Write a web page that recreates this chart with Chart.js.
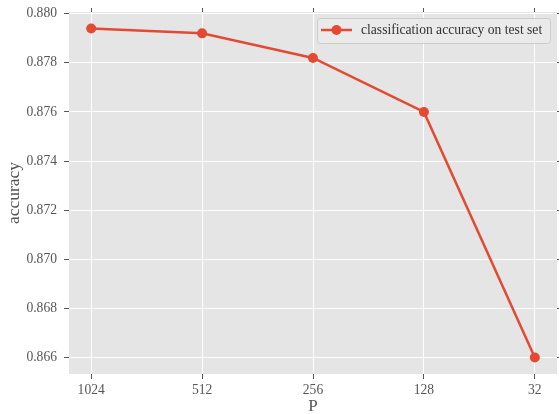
<!DOCTYPE html>
<html>
<head>
<meta charset="utf-8">
<script src="https://cdn.jsdelivr.net/npm/chart.js@4.4.1/dist/chart.umd.min.js"></script>
<style>
  html, body { margin: 0; padding: 0; background: #fff; }
  #wrap { width: 559px; height: 414px; }
</style>
</head>
<body>
<div id="wrap"><canvas id="grafico" width="559" height="414"></canvas></div>
<script>
// datos
const categorias = ['1024', '512', '256', '128', '32'];
const precision = [0.8794, 0.8792, 0.8782, 0.8760, 0.8660];
const ticksY = [0.866, 0.868, 0.870, 0.872, 0.874, 0.876, 0.878, 0.880];
const etiquetaSerie = 'classification accuracy on test set';

const FUENTE = '"Liberation Serif", "Times New Roman", serif';
const ROJO = '#E24A33';
const GRIS_TXT = '#555555';

/*
  ================= plugins =================
*/

// fondo gris del area de trazado
const fondoPlot = {
  id: 'fondoPlot',
  beforeDraw(chart) {
    let { ctx, chartArea: a } = chart;
    ctx.save();
    ctx.fillStyle = '#E5E5E5';
    ctx.fillRect(a.left, a.top, a.right - a.left, a.bottom - a.top);
    ctx.restore();
  }
};

// leyenda dentro del grafico (arriba a la derecha)
const leyendaInterna = {
  id: 'leyendaInterna',
  afterDraw(chart) {
    let ctx = chart.ctx;
    let x = 317, y = 18, w = 233, h = 25;
    ctx.save();
    ctx.fillStyle = 'rgba(235,235,235,0.85)';
    ctx.strokeStyle = '#CCCCCC';
    ctx.lineWidth = 1;
    ctx.beginPath();
    ctx.roundRect(x + 0.5, y + 0.5, w, h, 3);
    ctx.fill();
    ctx.stroke();

    ctx.strokeStyle = ROJO;
    ctx.lineWidth = 2.5;
    ctx.beginPath();
    ctx.moveTo(321, 30);
    ctx.lineTo(352, 30);
    ctx.stroke();
    ctx.fillStyle = ROJO;
    ctx.beginPath();
    ctx.arc(336.5, 30, 5, 0, Math.PI * 2);
    ctx.fill();

    ctx.fillStyle = '#333333';
    ctx.font = '13.6px ' + FUENTE;
    ctx.textBaseline = 'middle';
    ctx.fillText(chart.data.datasets[0].label, 361, 30.5);
    ctx.restore();
  }
};

// quitar el relleno que Chart.js reserva para las etiquetas de los extremos
let sinRellenoH = s => { s.paddingLeft = 0; s.paddingRight = 0; };
let sinRellenoV = s => { s.paddingTop = 0; s.paddingBottom = 0; };

/*
  ================= chart =================
*/

const puntos = precision.map((v, i) => ({ x: i, y: v }));

const ejeX = {
  type: 'linear',
  min: -0.2,
  max: categorias.length - 1 + 0.2,
  afterBuildTicks: s => { s.ticks = categorias.map((c, i) => ({ value: i })); },
  afterFit: s => { s.height = 40; sinRellenoH(s); },
  ticks: {
    callback: v => categorias[v],
    color: GRIS_TXT,
    font: { family: FUENTE, size: 13.6 },
    padding: 3,
    maxRotation: 0,
    autoSkip: false
  },
  grid: { color: '#FFFFFF', lineWidth: 1, tickColor: GRIS_TXT, tickLength: 5 },
  border: { display: false },
  title: {
    display: true,
    text: 'P',
    color: GRIS_TXT,
    font: { family: FUENTE, size: 17 },
    padding: { top: 0, bottom: -3 }
  }
};

const ejeY = {
  type: 'linear',
  min: 0.86533,
  max: 0.88007,
  afterBuildTicks: s => { s.ticks = ticksY.map(v => ({ value: v })); },
  afterFit: s => { s.width = 69; sinRellenoV(s); },
  ticks: {
    callback: v => v.toFixed(3),
    color: GRIS_TXT,
    font: { family: FUENTE, size: 13.6 },
    padding: 7
  },
  grid: { color: '#FFFFFF', lineWidth: 1, tickColor: GRIS_TXT, tickLength: 5 },
  border: { display: false },
  title: {
    display: true,
    text: 'accuracy',
    color: GRIS_TXT,
    font: { family: FUENTE, size: 17.5 },
    padding: { top: 4, bottom: 0 }
  }
};

// ejes secundarios solo para las marcas de arriba y derecha
const ejeXSup = {
  type: 'linear',
  position: 'top',
  min: ejeX.min,
  max: ejeX.max,
  afterBuildTicks: s => { s.ticks = categorias.map((c, i) => ({ value: i })); },
  afterFit: s => { s.height = 12; sinRellenoH(s); },
  ticks: { display: false },
  grid: { color: 'rgba(0,0,0,0)', tickColor: GRIS_TXT, tickLength: 4 },
  border: { display: false }
};

const ejeYDer = {
  type: 'linear',
  position: 'right',
  min: ejeY.min,
  max: ejeY.max,
  afterBuildTicks: s => { s.ticks = ticksY.map(v => ({ value: v })); },
  afterFit: s => { s.width = 2; sinRellenoV(s); },
  ticks: { display: false },
  grid: { color: 'rgba(0,0,0,0)', tickColor: GRIS_TXT, tickLength: 4 },
  border: { display: false }
};

let grafico = new Chart(document.getElementById('grafico').getContext('2d'), {
  type: 'line',
  data: {
    datasets: [
      {
        label: etiquetaSerie,
        data: puntos,
        borderColor: ROJO,
        backgroundColor: ROJO,
        borderWidth: 2.5,
        pointRadius: 5,
        pointHoverRadius: 5,
        pointBorderWidth: 0,
        tension: 0,
        xAxisID: 'x',
        yAxisID: 'y'
      }
    ]
  },
  options: {
    responsive: false,
    animation: false,
    layout: { padding: 0, autoPadding: false },
    plugins: {
      legend: { display: false },
      tooltip: { enabled: false }
    },
    scales: {
      x: ejeX,
      y: ejeY,
      x2: ejeXSup,
      y2: ejeYDer
    }
  },
  plugins: [fondoPlot, leyendaInterna]
});
</script>
</body>
</html>
